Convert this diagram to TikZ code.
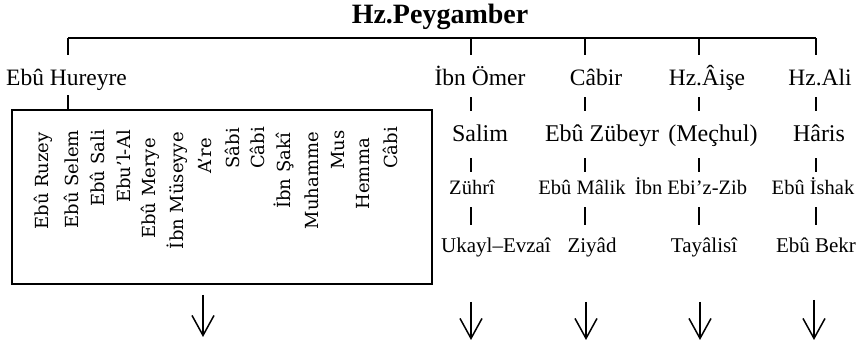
\documentclass[tikz,border=0pt]{standalone}
\usepackage{fontspec}
\setmainfont{Liberation Serif}
\newfontfamily\slab{DejaVu Serif}
\usetikzlibrary{arrows.meta}
\begin{document}
\begin{tikzpicture}[x=1pt,y=-1pt,
  ln/.style={line width=1.6pt},
  lA/.style={font=\fontsize{23.5}{26}\selectfont, inner sep=0pt, text height=17.6pt, text depth=5.9pt, anchor=base},
  lB/.style={font=\fontsize{24}{26}\selectfont, inner sep=0pt, text height=18pt, text depth=6pt, anchor=base},
  lC/.style={font=\fontsize{20.5}{23}\selectfont, inner sep=0pt, text height=15.4pt, text depth=5.1pt, anchor=base},
  lD/.style={font=\fontsize{21}{23}\selectfont, inner sep=0pt, text height=15.75pt, text depth=5.25pt, anchor=base},
  rname/.style={font=\slab\fontsize{18}{20}\selectfont, rotate=90, anchor=east, inner sep=0pt},
  darrow/.style={line width=1.5pt, -{Straight Barb[length=20pt,width=22pt,line width=1.5pt]}}
]
\useasboundingbox (0,0) rectangle (862,344);

% title
\node[font=\bfseries\fontsize{28}{30}\selectfont, inner sep=0pt, anchor=base] (title) at (440,24) {Hz.Peygamber};

% bar coordinates
\coordinate (c0) at (68,38);
\coordinate (c1) at (471,38);
\coordinate (c2) at (585,38);
\coordinate (c3) at (699,38);
\coordinate (c4) at (816,38);

% level 1
\node[lA] (hureyre) at (66.5,86) {Ebû Hureyre};
\node[lA] (omer) at (480,86) {İbn Ömer};
\node[lA] (cabir) at (596,86) {Câbir};
\node[lA] (aise) at (707,86) {Hz.Âişe};
\node[lA] (ali) at (820,86) {Hz.Ali};

% level 2
\node[lB] (salim) at (480,141.7) {Salim};
\node[lB] (zubeyr) at (602,141.7) {Ebû Zübeyr};
\node[lB] (mechul) at (713,141.7) {(Meçhul)};
\node[lB] (haris) at (819,141.7) {Hâris};

% level 3
\node[lC] (zuhri) at (472,195) {Zührî};
\node[lC] (malik) at (582,195) {Ebû Mâlik};
\node[lC] (zib) at (691,195) {İbn Ebi’z-Zib};
\node[lC] (ishak) at (813,195) {Ebû İshak};

% level 4
\node[lD] (ukayl) at (496,253) {Ukayl–Evzaî};
\node[lD] (ziyad) at (592,253) {Ziyâd};
\node[lD] (tayalisi) at (704,253) {Tayâlisî};
\node[lD] (bekr) at (816,253) {Ebû Bekr};

% box
\node[draw, line width=1.8pt, minimum width=420pt, minimum height=174pt, inner sep=0pt] (box) at (222,197) {};

% rotated names
\node[rname] (r1) at (43,132) {Ebû Ruzey};
\node[rname] (r2) at (71.5,130) {Ebû Selem};
\node[rname] (r3) at (97,130) {Ebû Sali};
\node[rname] (r4) at (124,130) {Ebu’l-Al};
\node[rname] (r5) at (150,138) {Ebû Merye};
\node[rname] (r6) at (177,132) {İbn Müseyye};
\node[rname] (r7) at (205,138) {A’re};
\node[rname] (r8) at (232,128) {Sâbi};
\node[rname] (r9) at (257,127) {Câbi};
\node[rname] (r10) at (284,133) {İbn Şakî};
\node[rname] (r11) at (312,132) {Muhamme};
\node[rname] (r12) at (338,130) {Mus};
\node[rname] (r13) at (363,138) {Hemma};
\node[rname] (r14) at (390,127) {Câbi};

% bar and ticks
\draw[ln] (c0) -- (c4);
\draw[ln, shorten >=13.4pt] (c0) -- (hureyre.north -| c0);
\draw[ln, shorten >=13.4pt] (c1) -- (omer.north -| c1);
\draw[ln, shorten >=13.4pt] (c2) -- (cabir.north -| c2);
\draw[ln, shorten >=13.4pt] (c3) -- (aise.north -| c3);
\draw[ln, shorten >=13.4pt] (c4) -- (ali.north -| c4);

\draw[ln, shorten <=3.1pt] (hureyre.south -| c0) -- (box.north -| c0);

\draw[ln, shorten <=5.1pt, shorten >=12.7pt] (omer.south -| c1) -- (salim.north -| c1);
\draw[ln, shorten <=5.1pt, shorten >=12.7pt] (cabir.south -| c2) -- (zubeyr.north -| c2);
\draw[ln, shorten <=5.1pt, shorten >=12.7pt] (aise.south -| c3) -- (mechul.north -| c3);
\draw[ln, shorten <=5.1pt, shorten >=12.7pt] (ali.south -| c4) -- (haris.north -| c4);

\draw[ln, shorten <=10.3pt, shorten >=7.6pt] (salim.south -| c1) -- (zuhri.north -| c1);
\draw[ln, shorten <=10.3pt, shorten >=7.6pt] (zubeyr.south -| c2) -- (malik.north -| c2);
\draw[ln, shorten <=10.3pt, shorten >=7.6pt] (mechul.south -| c3) -- (zib.north -| c3);
\draw[ln, shorten <=10.3pt, shorten >=7.6pt] (haris.south -| c4) -- (ishak.north -| c4);

\draw[ln, shorten <=6.9pt, shorten >=12.25pt] (zuhri.south -| c1) -- (ukayl.north -| c1);
\draw[ln, shorten <=6.9pt, shorten >=12.25pt] (malik.south -| c2) -- (ziyad.north -| c2);
\draw[ln, shorten <=6.9pt, shorten >=12.25pt] (zib.south -| c3) -- (tayalisi.north -| c3);
\draw[ln, shorten <=6.9pt, shorten >=12.25pt] (ishak.south -| c4) -- (bekr.north -| c4);

% down arrows
\coordinate (a1s) at (203,295); \coordinate (a1e) at (203,337);
\coordinate (a2s) at (471,302); \coordinate (a2e) at (471,340);
\coordinate (a3s) at (586,302); \coordinate (a3e) at (586,340);
\coordinate (a4s) at (700,302); \coordinate (a4e) at (700,340);
\coordinate (a5s) at (814,300); \coordinate (a5e) at (814,340);
\draw[darrow] (a1s) -- (a1e);
\draw[darrow] (a2s) -- (a2e);
\draw[darrow] (a3s) -- (a3e);
\draw[darrow] (a4s) -- (a4e);
\draw[darrow] (a5s) -- (a5e);
\end{tikzpicture}
\end{document}
